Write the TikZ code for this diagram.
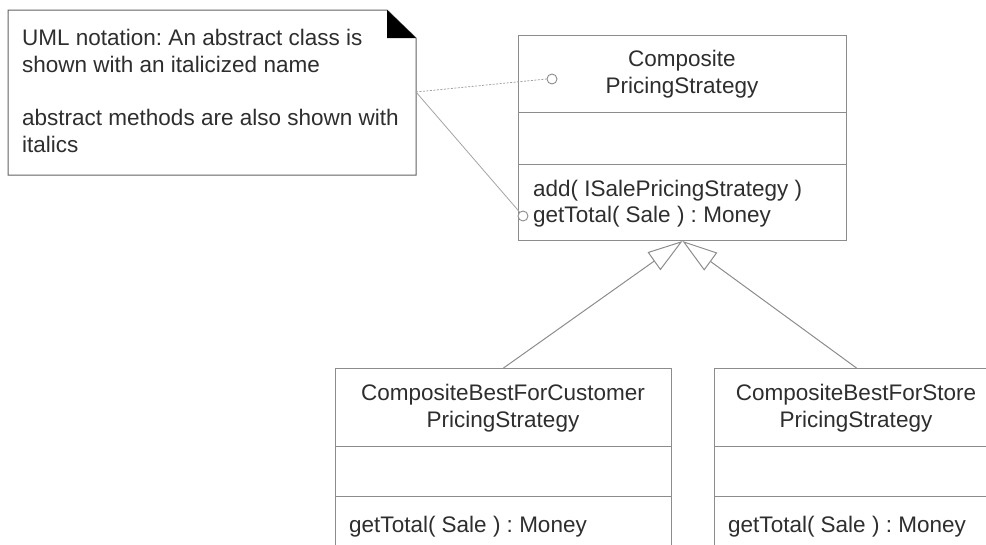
\documentclass[tikz,border=0pt]{standalone}
\usepackage{fontspec}
\setmainfont{Liberation Sans}
\usetikzlibrary{arrows.meta}
\frenchspacing
\definecolor{linegray}{HTML}{8C8C8C}
\definecolor{txt}{HTML}{2E2E2E}
\tikzset{
  classbox/.style={draw=linegray, line width=1pt, fill=white, inner sep=0pt, anchor=north west},
  divider/.style={draw=linegray, line width=1pt},
  lbl/.style={inner sep=0pt, text=txt, font=\fontsize{22.5}{27}\selectfont},
  anchorcirc/.style={circle, draw=linegray, line width=0.9pt, fill=white, inner sep=0pt, minimum size=10pt},
  gen/.style={draw=linegray, line width=1pt, -{Triangle[length=35pt,width=22pt,fill=white]}},
  notelink/.style={draw=linegray!80, line width=0.8pt}
}
\begin{document}
\begin{tikzpicture}[x=1pt,y=-1pt]
\useasboundingbox (0,0) rectangle (986,544);
\clip (0,0) rectangle (986,544);
% note
\draw[draw=linegray!70!black, line width=1pt, fill=white] (8,10) -- (387,10) -- (416,38) -- (416,175) -- (8,175) -- cycle;
\fill[black] (387,10) -- (416,38) -- (387,38) -- cycle;
\node[lbl, anchor=base west] (n1) at (22,45) {UML notation: An abstract class is};
\node[lbl, anchor=base west] (n2) at (22,72) {shown with an italicized name};
\node[lbl, anchor=base west] (n3) at (22,125) {abstract methods are also shown with};
\node[lbl, anchor=base west] (n4) at (22,152) {italics};
\coordinate (noteR) at (416,92);
% top class
\node[classbox, minimum width=328pt, minimum height=205pt] (top) at (518,35) {};
\draw[divider] (518,112) -- (846,112);
\draw[divider] (518,164) -- (846,164);
\node[lbl, anchor=base] (t1) at (682,66) {Composite};
\node[lbl, anchor=base] (t2) at (682,93) {PricingStrategy};
\node[lbl, anchor=base west] (t3) at (533,196) {add( ISalePricingStrategy )};
\node[lbl, anchor=base west] (t4) at (533,222) {getTotal( Sale ) : Money};
% bottom left class
\node[classbox, minimum width=336pt, minimum height=200pt] (bl) at (335,368) {};
\draw[divider] (335,446) -- (671,446);
\draw[divider] (335,496) -- (671,496);
\node[lbl, anchor=base] (b1) at (503,400) {CompositeBestForCustomer};
\node[lbl, anchor=base] (b2) at (503,427) {PricingStrategy};
\node[lbl, anchor=base west] (b3) at (349,532) {getTotal( Sale ) : Money};
% bottom right class
\node[classbox, minimum width=284pt, minimum height=200pt] (br) at (714,368) {};
\draw[divider] (714,446) -- (998,446);
\draw[divider] (714,496) -- (998,496);
\node[lbl, anchor=base] (r1) at (856,400) {CompositeBestForStore};
\node[lbl, anchor=base] (r2) at (856,427) {PricingStrategy};
\node[lbl, anchor=base west] (r3) at (728,532) {getTotal( Sale ) : Money};
% note links
\node[anchorcirc] (c1) at (552,79) {};
\node[anchorcirc] (c2) at (523,216) {};
\draw[notelink, dash pattern=on 2pt off 1.5pt] (noteR) -- (c1.west);
\draw[notelink] (noteR) -- (c2);
% generalizations
\draw[gen] (bl.north) -- (top.south);
\draw[gen] (br.north) -- (top.south);
\end{tikzpicture}
\end{document}
